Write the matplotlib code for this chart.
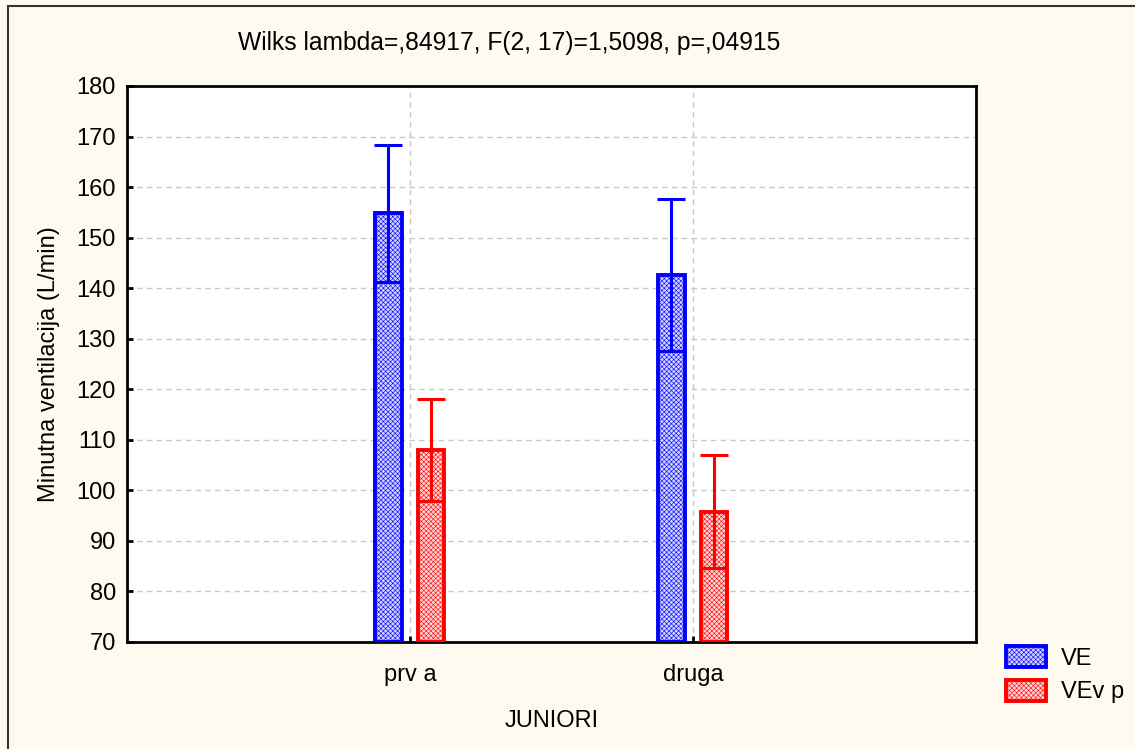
import numpy as np
import matplotlib.pyplot as plt
from matplotlib.patches import Rectangle

plt.rcParams["font.family"] = ["Liberation Sans", "DejaVu Sans"]
plt.rcParams["hatch.linewidth"] = 0.4

groups = ["prva", "druga"]
series = ["VE", "VEvp"]
means = {"VE": [154.8, 142.6], "VEvp": [107.9, 95.8]}
errors = {"VE": [13.6, 15.0], "VEvp": [10.1, 11.2]}
colors = {"VE": "#0000ff", "VEvp": "#ff0000"}
faces = {"VE": "#d0d0ff", "VEvp": "#ffd4d4"}
offsets = {"VE": -0.076, "VEvp": 0.073}
title = "Wilks lambda=,84917, F(2, 17)=1,5098, p=,04915"

fig = plt.figure(figsize=(11.35, 7.49), dpi=100, facecolor="#fffaef")
ax = fig.add_axes([127 / 1135, 1 - 642 / 749, (976 - 127) / 1135, (642 - 86) / 749])
ax.set_facecolor("white")

# outer frame (only left/top visible in original)
fig.patches.append(Rectangle((8 / 1135, -0.05), 1.2, 1 - 6 / 749 + 0.05,
                             transform=fig.transFigure, fill=False,
                             edgecolor="#333333", linewidth=1.5))

x = np.arange(1, len(groups) + 1)
width = 0.092
for s in series:
    pos = x + offsets[s]
    ax.bar(pos, np.array(means[s]) - 70, bottom=70, width=width,
           facecolor=faces[s], edgecolor=colors[s], linewidth=2.8, hatch="xxxxxxx",
           label=s, zorder=3)
    ax.errorbar(pos, means[s], yerr=errors[s], fmt="none", ecolor=colors[s],
                elinewidth=2.2, capsize=9.8, capthick=2.2, zorder=4)

ax.set_xlim(0, 3)
ax.set_ylim(70, 180)
ax.set_yticks(np.arange(70, 181, 10))
ax.set_xticks(x)
ax.set_xticklabels(["prv a", "druga"])
ax.tick_params(direction="in", length=4, width=2, labelsize=17, pad=8)
ax.tick_params(axis="x", pad=16)
ax.grid(True, color="#c8c8c8", linestyle=(0, (4, 3)), linewidth=1)
ax.set_axisbelow(True)
for sp in ax.spines.values():
    sp.set_linewidth(2)

ax.set_xlabel("JUNIORI", fontsize=17, labelpad=17)
ax.set_ylabel("Minutna ventilacija (L/min)", fontsize=17, labelpad=12)
fig.text(509 / 1135, 1 - 43 / 749, title, fontsize=17.7, ha="center", va="center")

handles, labels = ax.get_legend_handles_labels()
fig.legend(handles, ["VE", "VEv p"], loc="upper left",
           bbox_to_anchor=(985 / 1135, 1 - 625 / 749), frameon=False,
           fontsize=17, handlelength=1.7, handleheight=0.95, labelspacing=0.45,
           handletextpad=0.6)

fig.savefig("out.png", dpi=100, facecolor=fig.get_facecolor())
